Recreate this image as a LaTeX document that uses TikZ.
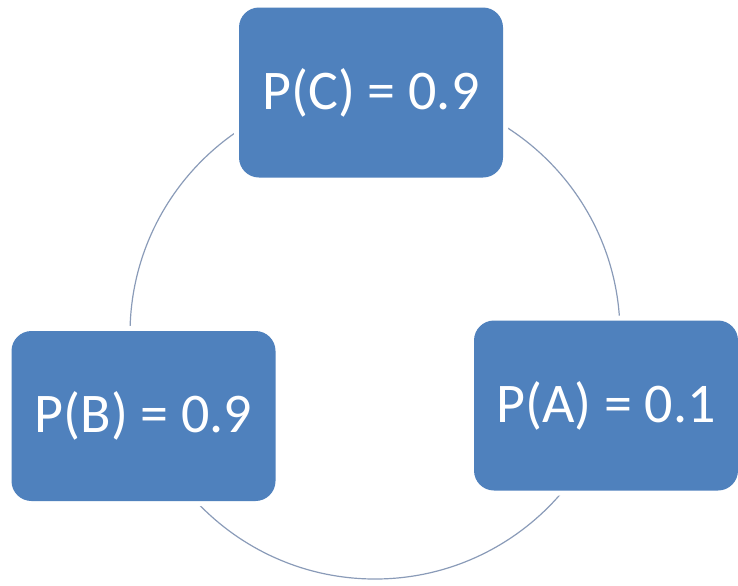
\documentclass[tikz,border=0pt]{standalone}
\usepackage{fontspec}
\setmainfont{Carlito}
\usetikzlibrary{positioning}
\definecolor{cycleblue}{HTML}{4F81BD}
\definecolor{ringgray}{HTML}{8A9BB8}
\tikzset{
  probbox/.style={rectangle, fill=cycleblue, rounded corners=10pt, text=white,
    minimum width=132pt, minimum height=85pt, inner sep=0pt,
    font=\fontsize{28}{32}\selectfont,
    preaction={draw=white, line width=5pt}},
  ring/.style={draw=ringgray, line width=0.6pt},
}

\begin{document}
\begin{tikzpicture}[x=0.5pt, y=-0.5pt]
    \useasboundingbox (0,0) rectangle (738,585);
    \coordinate (hub) at (375,334);

    % the cycle, boxes sit on top of it
    \draw[ring] (hub) circle[radius=122.5pt];

    \node[probbox] (pc) at (371,92.5) {P(C) = 0.9};
    \node[probbox] (pb) at (143.5,416) {P(B) = 0.9};
    \node[probbox] (pa) at (606,405.5) {P(A) = 0.1};
\end{tikzpicture}
\end{document}
